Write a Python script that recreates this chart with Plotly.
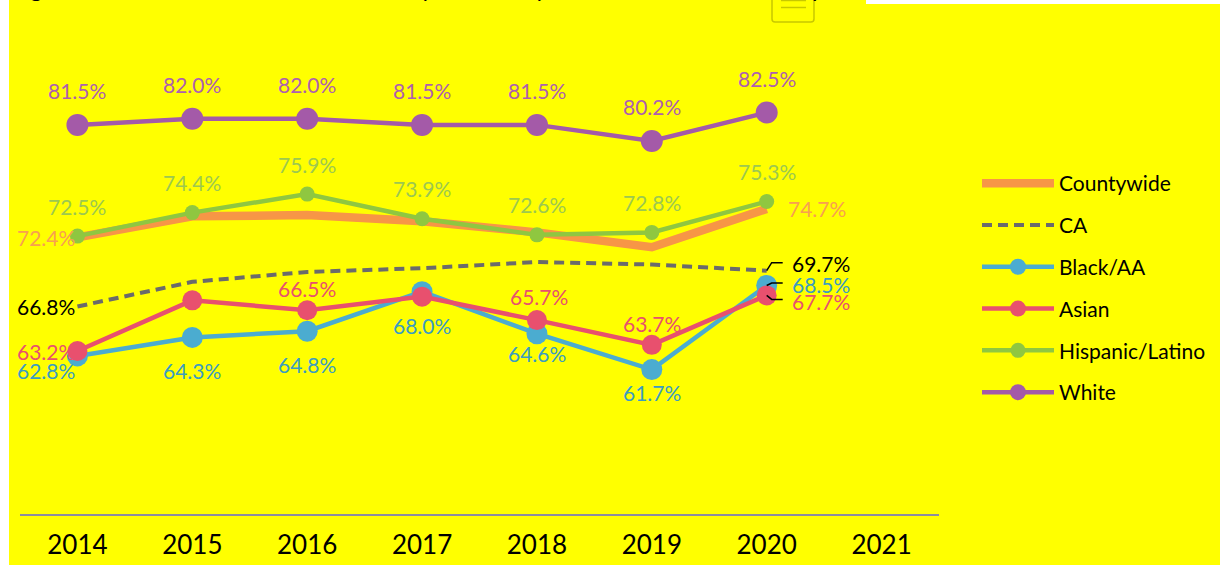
import plotly.graph_objects as go

years = ["2014", "2015", "2016", "2017", "2018", "2019", "2020", "2021"]
countywide = [72.4, 74.1, 74.2, 73.7, 72.8, 71.6, 74.7, None]
ca = [66.8, 68.8, 69.6, 69.9, 70.4, 70.2, 69.7, None]
black = [62.8, 64.3, 64.8, 68.0, 64.6, 61.7, 68.5, None]
asian = [63.2, 67.3, 66.5, 67.6, 65.7, 63.7, 67.7, None]
hispanic = [72.5, 74.4, 75.9, 73.9, 72.6, 72.8, 75.3, None]
white = [81.5, 82.0, 82.0, 81.5, 81.5, 80.2, 82.5, None]

FONT = "Lato"
ORANGE, GREY, BLUE, PINK, GREEN, PURPLE = "#F79646", "#6B6B6B", "#4BACD0", "#E8506E", "#8FC740", "#A45AA8"
YEL = "#FFFF00"

fig = go.Figure()
def add(name, ys, color, width, size=None, dash=None):
    fig.add_trace(go.Scatter(
        x=years, y=ys, name=name, legendgroup=name, cliponaxis=False,
        mode="lines+markers" if size else "lines",
        line=dict(color=color, width=width, dash=dash),
        marker=dict(size=size, color=color) if size else None,
        hoverinfo="skip"))

add("Countywide", countywide, ORANGE, 8.5)
add("CA", ca, GREY, 4, dash="10px,6px")
add("Black/AA", black, BLUE, 4.5, 21)
add("Asian", asian, PINK, 4.5, 20)
add("Hispanic/Latino", hispanic, GREEN, 4.5, 15)
add("White", white, PURPLE, 4.5, 22)

def label(series, idx, color, dx, dy, size=21):
    fig.add_annotation(x=idx, y=series[idx], xref="x", yref="y", text=f"{series[idx]:.1f}%", showarrow=False,
                       xshift=dx, yshift=dy, font=dict(family=FONT, size=size, color=color))

GREEN_TXT = "#9CC850"
ORANGE_TXT = "#F8A050"
BLUE_TXT = "#3A9CC2"
for i in range(7):
    label(white, i, "#AD60B0", 0, 34)
    label(hispanic, i, GREEN_TXT, 0, 30)
label(black, 0, BLUE_TXT, -31, -15)
label(black, 1, BLUE_TXT, 0, -33)
label(black, 2, BLUE_TXT, 0, -33)
label(black, 3, BLUE_TXT, 0, -34)
label(black, 4, BLUE_TXT, 0, -20)
label(black, 5, BLUE_TXT, 0, -23)
label(black, 6, BLUE_TXT, 54, 1)
label(asian, 0, PINK, -31, 0)
label(asian, 2, PINK, 0, 22)
label(asian, 4, PINK, 2, 24)
label(asian, 5, PINK, 0, 21)
label(asian, 6, PINK, 54, -6)
label(ca, 6, "#000000", 54, 7)
label(ca, 0, "#000000", -31, 0)
label(countywide, 0, ORANGE_TXT, -31, 0)
label(countywide, 6, ORANGE_TXT, 50, 0)

def leader(series, path):
    fig.add_shape(type="path", xref="x", yref="y", xsizemode="pixel", ysizemode="pixel",
                  xanchor=6, yanchor=series[6], path=path,
                  line=dict(color="#000000", width=1.5))
leader(ca, "M 0 0 L 5 8 L 16 8")
leader(black, "M 0 0 L 5 2.5 L 16 2.5")
leader(asian, "M 0 0 L 5 -4 L 16 -4")

def px(x0, y0, x1, y1):
    return dict(x0=x0/1220, x1=x1/1220, y0=1-y0/565, y1=1-y1/565, xref="paper", yref="paper")
def pt(x, y):
    return f"{x/1220:.5f} {1-y/565:.5f}"
fig.add_shape(type="rect", fillcolor="#FFFFFF", line_width=0, **px(0, 0, 9, 565))
fig.add_shape(type="rect", fillcolor="#FFFFFF", line_width=0, **px(866, 0, 1220, 4))
ICON = "#C8C800"
fig.add_shape(type="path", xref="paper", yref="paper", line=dict(color=ICON, width=1.5),
              path="M " + pt(772, -3) + " L " + pt(772, 19) + " Q " + pt(772, 22) + " " + pt(775, 22)
                   + " L " + pt(811, 22) + " Q " + pt(814, 22) + " " + pt(814, 19) + " L " + pt(814, -3))
fig.add_shape(type="line", line=dict(color=ICON, width=1.5), **px(781, 7.5, 806, 7.5))
fig.add_shape(type="line", line=dict(color=ICON, width=1.5), **px(781, 0.5, 806, 0.5))

# only the descenders of the cropped title are visible in the reference
for ch, x in [("g", 36), ("y", 427), ("y", 541), ("p", 818)]:
    fig.add_annotation(x=x/1220, y=1-4/565, xref="paper", yref="paper", text=ch, showarrow=False,
                       yanchor="bottom", xanchor="center", font=dict(family=FONT, size=24, color="#000000"))

fig.update_layout(
    width=1220, height=565, margin=dict(l=0, r=0, t=0, b=0),
    paper_bgcolor=YEL, plot_bgcolor=YEL,
    font=dict(family=FONT, color="#000000"),
    xaxis=dict(domain=[20/1220, 939/1220], type="category", range=[-0.5, 7.5], showgrid=False, zeroline=False,
               showline=True, linecolor="#8C8CA0", linewidth=1.5, ticks="",
               tickfont=dict(size=26, family=FONT, color="#000000"), ticklabelstandoff=8),
    yaxis=dict(domain=[51.5/565, 547/565], range=[50.05, 90.15], visible=False),
    legend=dict(x=977/1220, y=1-163/565, xanchor="left", yanchor="top", bgcolor="rgba(0,0,0,0)",
                font=dict(family=FONT, size=21), itemwidth=72, tracegroupgap=11.5,
                itemclick=False, itemdoubleclick=False),
)
fig.write_html("out.html", config={"displayModeBar": False},
               post_script="document.body.style.margin='0';document.body.style.overflow='hidden';")
